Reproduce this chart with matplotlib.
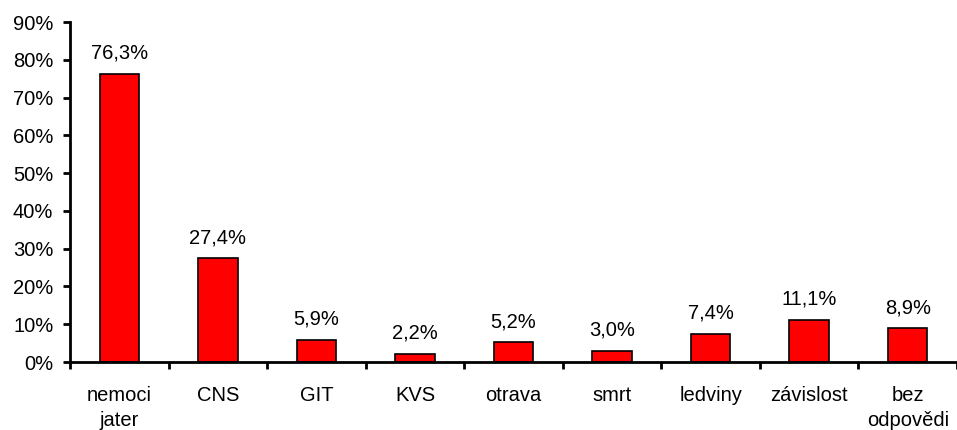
import matplotlib
matplotlib.use("Agg")
import matplotlib.pyplot as plt
import numpy as np

categories = ["nemoci\njater", "CNS", "GIT", "KVS", "otrava", "smrt",
              "ledviny", "závislost", "bez\nodpovědi"]
values = [76.3, 27.4, 5.9, 2.2, 5.2, 3.0, 7.4, 11.1, 8.9]
yticks = [0, 10, 20, 30, 40, 50, 60, 70, 80, 90]

plt.rcParams["font.family"] = ["Liberation Sans", "DejaVu Sans"]
FS = 14.5

fig = plt.figure(figsize=(9.57, 4.3), dpi=100)
ax = fig.add_axes([70 / 957, 68 / 430, 887 / 957, 340 / 430])

x = np.arange(len(categories))
ax.bar(x, values, width=0.4, color="#ff0000", edgecolor="black", linewidth=1.2)
for xi, v in zip(x, values):
    ax.text(xi, v + 3.0, f"{v:.1f}%".replace(".", ","), ha="center", va="bottom",
            fontsize=FS)

ax.set_xlim(-0.5, -0.5 + 887 / 99)
ax.set_ylim(0, 90)
ax.set_yticks(yticks)
ax.set_yticklabels([f"{t}%" for t in yticks], fontsize=FS)

# category labels centred, tick marks between categories
ax.set_xticks(np.arange(len(categories) + 1) - 0.5)
ax.set_xticklabels([])
ax.set_xticks(x, minor=True)
ax.set_xticklabels(categories, minor=True, fontsize=FS, linespacing=1.45)
ax.tick_params(axis="x", which="minor", length=0, pad=17)
ax.tick_params(axis="x", which="major", direction="out", length=5, width=2)
ax.tick_params(axis="y", direction="out", length=5, width=2, pad=7)

for s in ("top", "right"):
    ax.spines[s].set_visible(False)
for s in ("left", "bottom"):
    ax.spines[s].set_linewidth(2)

fig.savefig("out.png", dpi=100)
